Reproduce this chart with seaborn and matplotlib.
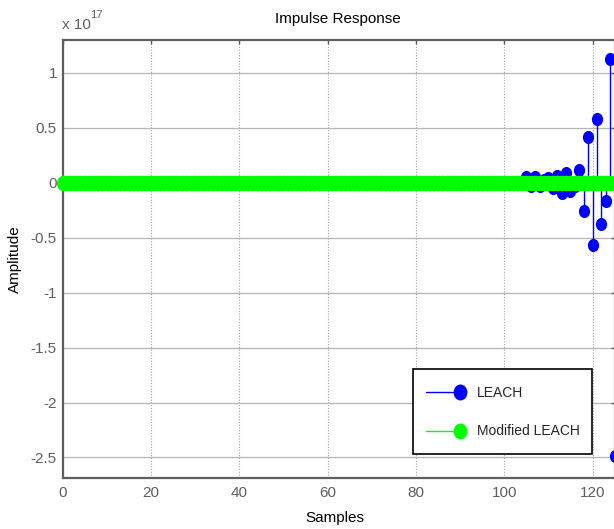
import matplotlib
matplotlib.use("Agg")
import matplotlib.pyplot as plt
import seaborn as sns
import pandas as pd
from matplotlib import font_manager
from matplotlib.markers import MarkerStyle
from matplotlib.transforms import Affine2D
from matplotlib.lines import Line2D
from matplotlib.legend_handler import HandlerBase

# ---------------- data (amplitude in units of 1e17) ----------------
samples = list(range(126))
leach_tail = [0.0, 0.05, -0.03, 0.05, -0.03, 0.03, 0.04, -0.05, 0.06, -0.09,
              0.087, -0.07, -0.03, 0.114, -0.26, 0.42, -0.565, 0.58, -0.374,
              -0.164, 1.124, -2.49]                      # samples 104..125
leach_amp = [0.0] * 104 + leach_tail
modified_amp = [0.0] * 126
x_ticks = [0, 20, 40, 60, 80, 100, 120]
y_ticks = [1, 0.5, 0, -0.5, -1, -1.5, -2, -2.5]
series_names = ["LEACH", "Modified LEACH"]

# ---------------- style ----------------
sns.set_theme(style="white")
fam = "Liberation Sans"
fsize = 11
lsize = 10
try:
    font_manager.findfont("Liberation Sans Narrow", fallback_to_default=False)
    fam = "Liberation Sans Narrow"
    fsize = 12
    lsize = 12
except Exception:
    pass
plt.rcParams["font.family"] = [fam, "DejaVu Sans"]
plt.rcParams["axes.unicode_minus"] = False

GRAY = "#5f5f5f"
BLUE = "#0000ff"
GREEN = "#00ff00"

W, H = 614, 529
fig = plt.figure(figsize=(W / 100, H / 100), dpi=100)
ax_l, ax_r, ax_t, ax_b = 62.5, 615.0, 40.0, 477.7
ax = fig.add_axes([ax_l / W, 1 - ax_b / H, (ax_r - ax_l) / W, (ax_b - ax_t) / H])

df_leach = pd.DataFrame({"Samples": samples, "Amplitude": leach_amp})
df_mod = pd.DataFrame({"Samples": samples, "Amplitude": modified_amp})

# stems
ax.vlines(df_leach["Samples"], 0, df_leach["Amplitude"], colors=BLUE, lw=1.0, zorder=2)

mk = MarkerStyle("o", transform=Affine2D().scale(0.85, 1.0))
sns.scatterplot(data=df_leach, x="Samples", y="Amplitude", color=BLUE, marker=mk,
                s=90, linewidth=0, ax=ax, legend=False, zorder=3, clip_on=False)
sns.scatterplot(data=df_mod, x="Samples", y="Amplitude", color=GREEN, marker=mk,
                s=125, linewidth=0, ax=ax, legend=False, zorder=4, clip_on=False)

ax.set_xlim(0, (ax_r - ax_l) / 4.4167)
ax.set_ylim(-2.684, 1.30)
ax.set_xticks(x_ticks)
ax.set_yticks(y_ticks)
ax.set_xticklabels([f"{v:g}" for v in x_ticks])
ax.set_yticklabels([f"{v:g}" for v in y_ticks])

ax.grid(False)
for v in x_ticks:
    ax.axvline(v, color="#a5a5a5", lw=0.8, ls=(0, (1, 1.5)), zorder=0)
for v in y_ticks:
    ax.axhline(v, color="#b5b5b5", lw=0.9, zorder=0)

for sp in ax.spines.values():
    sp.set_color(GRAY)
    sp.set_linewidth(1.6)
ax.tick_params(direction="in", top=True, right=True, length=3, width=1,
               color=GRAY, labelcolor=GRAY, labelsize=fsize)
ax.tick_params(axis="x", pad=6)
ax.tick_params(axis="y", pad=4)

ax.set_xlabel("Samples", fontsize=fsize, color="black")
ax.set_ylabel("Amplitude", fontsize=fsize, color="black")
ax.xaxis.set_label_coords((335 - ax_l) / (ax_r - ax_l), -(518 - ax_b) / (ax_b - ax_t))
ax.yaxis.set_label_coords((15 - ax_l) / (ax_r - ax_l), (ax_b - 259) / (ax_b - ax_t))
ax.yaxis.label.set_verticalalignment("center")
ax.xaxis.label.set_verticalalignment("center")

fig.text(337.5 / W, 1 - 19 / H, "Impulse Response", ha="center", va="center",
         fontsize=fsize, color="black")
fig.text(62 / W, 1 - 25 / H, "x 10", ha="left", va="center", fontsize=fsize, color=GRAY)
fig.text(90 / W, 1 - 15 / H, "17", ha="left", va="center", fontsize=fsize * 0.75, color=GRAY)


class RightMarkerHandler(HandlerBase):
    def create_artists(self, legend, orig_handle, xdescent, ydescent, width, height,
                       fontsize, trans):
        y = height / 2 - ydescent
        c = orig_handle.get_color()
        line = Line2D([-xdescent, width - xdescent], [y, y], color=c, lw=1.0)
        m = Line2D([width - xdescent], [y], color=c, ls="None",
                   marker=MarkerStyle("o", transform=Affine2D().scale(0.85, 1.0)), ms=10.5)
        line.set_transform(trans)
        m.set_transform(trans)
        return [line, m]


handles = [Line2D([], [], color=BLUE), Line2D([], [], color=GREEN)]
leg = ax.legend(handles, series_names, loc="lower left",
                bbox_to_anchor=((413 - ax_l) / (ax_r - ax_l), (ax_b - 454) / (ax_b - ax_t)),
                borderaxespad=0, frameon=True, fancybox=False, framealpha=1,
                edgecolor="black", fontsize=lsize, handlelength=2.5, handletextpad=1.2,
                handleheight=2.0, labelspacing=1.23, borderpad=0.9,
                handler_map={Line2D: RightMarkerHandler()})
leg.get_frame().set_linewidth(1.2)
leg.set_zorder(10)

fig.savefig("out.png", dpi=100)
